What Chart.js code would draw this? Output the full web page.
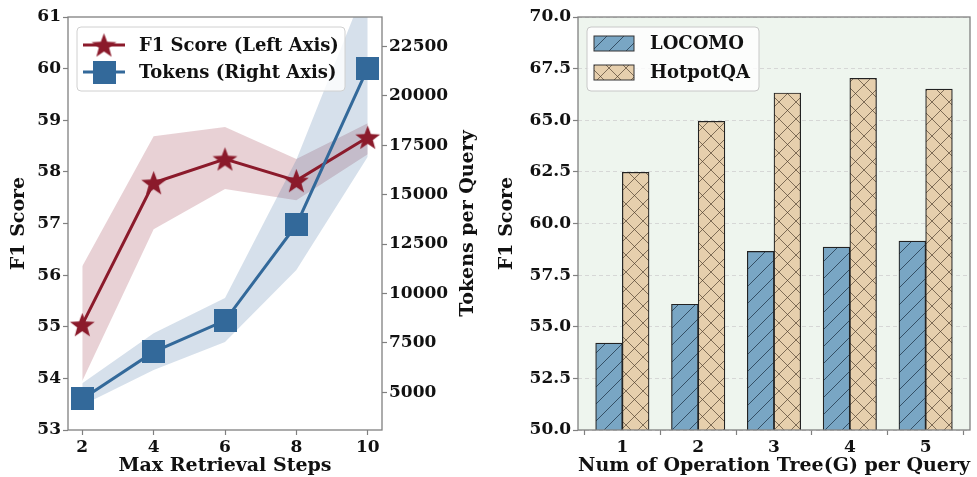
<!DOCTYPE html>
<html><head><meta charset="utf-8">
<script src="https://cdn.jsdelivr.net/npm/chart.js@4.4.1/dist/chart.umd.min.js"></script>
<style>
html,body{margin:0;padding:0;background:#fff;}
#wrap{position:relative;width:977px;height:477px;overflow:hidden;}
#c1{position:absolute;left:0;top:0;}
#c2{position:absolute;left:490px;top:0;}
</style></head><body>
<div id="wrap"><canvas id="c1" width="490" height="477"></canvas><canvas id="c2" width="487" height="477"></canvas></div>
<script>
// ---- Left chart data ----
const steps = [2, 4, 6, 8, 10];
const f1Score = [55.04, 57.79, 58.25, 57.83, 58.67];
const f1Upper = [56.17, 58.69, 58.87, 58.25, 58.94];
const f1Lower = [53.95, 56.89, 57.67, 57.45, 58.34];
const tokens = [4660, 7040, 8630, 13470, 21400];
const tokensUpper = [5460, 7990, 9770, 16770, 25800];
const tokensLower = [4340, 6120, 7540, 11190, 16920];
const f1Ticks = [53, 54, 55, 56, 57, 58, 59, 60, 61];
const tokenTicks = [5000, 7500, 10000, 12500, 15000, 17500, 20000, 22500];

// ---- Right chart data ----
const treeCounts = [1, 2, 3, 4, 5];
const locomo = [54.21, 56.09, 58.65, 58.86, 59.15];
const hotpotqa = [62.48, 64.95, 66.32, 67.03, 66.51];
const barTicks = [50, 52.5, 55, 57.5, 60, 62.5, 65, 67.5, 70];

const FAM = '"DejaVu Serif", "Liberation Serif", serif';
const TXT = '#111';
const AX = '#808080';
const RED = '#8b1a2b';
const BLUE = '#33699a';

function makeStar(size, rO, rI, color) {
  const c = document.createElement('canvas'); c.width = c.height = size;
  const g = c.getContext('2d'); g.beginPath();
  for (let i = 0; i < 10; i++) {
    const r = i % 2 ? rI : rO; const a = -Math.PI / 2 + i * Math.PI / 5;
    g.lineTo(size / 2 + r * Math.cos(a), size / 2 + 1.2 + r * Math.sin(a));
  }
  g.closePath(); g.fillStyle = color; g.fill(); return c;
}
function makeSquare(size, color) {
  const c = document.createElement('canvas'); c.width = c.height = size;
  const g = c.getContext('2d'); g.fillStyle = color; g.fillRect(0, 0, size, size); return c;
}
function hatch(fill, lineColor, both) {
  const s = 17; const c = document.createElement('canvas'); c.width = c.height = s;
  const g = c.getContext('2d'); g.fillStyle = fill; g.fillRect(0, 0, s, s);
  g.strokeStyle = lineColor; g.lineWidth = 1; g.beginPath();
  g.moveTo(-2, s + 2); g.lineTo(s + 2, -2);
  g.moveTo(-2, 2); g.lineTo(2, -2);
  g.moveTo(s - 2, s + 2); g.lineTo(s + 2, s - 2);
  if (both) {
    g.moveTo(-2, -2); g.lineTo(s + 2, s + 2);
    g.moveTo(s - 2, -2); g.lineTo(s + 2, 2);
    g.moveTo(-2, s - 2); g.lineTo(2, s + 2);
  }
  g.stroke();
  return g.createPattern(c, 'repeat');
}

const starImg = makeStar(29, 13, 5.4, RED);
const squareImg = makeSquare(23, BLUE);

const frame = {
  id: 'frame',
  afterDatasetsDraw(chart) {
    const a = chart.chartArea, ctx = chart.ctx;
    ctx.save(); ctx.strokeStyle = AX; ctx.lineWidth = 1.3;
    ctx.strokeRect(a.left, a.top, a.right - a.left, a.bottom - a.top);
    ctx.restore();
  }
};

// right-axis title drawn reading bottom-to-top (as in the reference)
const rightTitle = {
  id: 'rightTitle',
  afterDraw(chart) {
    const sc = chart.options.scales.y1, a = chart.chartArea, ctx = chart.ctx;
    ctx.save();
    ctx.translate(468, (a.top + a.bottom) / 2);
    ctx.rotate(-Math.PI / 2);
    ctx.fillStyle = TXT; ctx.font = 'bold 19px ' + FAM; ctx.textAlign = 'center'; ctx.textBaseline = 'middle';
    ctx.fillText(sc.title.text, 0, 0);
    ctx.restore();
  }
};

function roundBox(ctx, x, y, w, h, r) {
  ctx.beginPath(); ctx.moveTo(x + r, y); ctx.lineTo(x + w - r, y); ctx.quadraticCurveTo(x + w, y, x + w, y + r);
  ctx.lineTo(x + w, y + h - r); ctx.quadraticCurveTo(x + w, y + h, x + w - r, y + h);
  ctx.lineTo(x + r, y + h); ctx.quadraticCurveTo(x, y + h, x, y + h - r);
  ctx.lineTo(x, y + r); ctx.quadraticCurveTo(x, y, x + r, y); ctx.closePath();
}

const legend1 = {
  id: 'legend1',
  afterDraw(chart) {
    const ctx = chart.ctx; const ds = chart.data.datasets;
    ctx.save();
    roundBox(ctx, 77, 27, 268, 64, 4);
    ctx.fillStyle = 'rgba(255,255,255,0.8)'; ctx.fill();
    ctx.strokeStyle = '#d0d0d0'; ctx.lineWidth = 1; ctx.stroke();
    const rows = [{ y: 45, d: ds[0], img: starImg }, { y: 72, d: ds[1], img: squareImg }];
    rows.forEach(r => {
      ctx.strokeStyle = r.d.borderColor; ctx.lineWidth = 3;
      ctx.beginPath(); ctx.moveTo(83, r.y); ctx.lineTo(125, r.y); ctx.stroke();
      ctx.drawImage(r.img, 104 - r.img.width / 2, r.y - r.img.height / 2);
      ctx.fillStyle = TXT; ctx.font = 'bold 18px ' + FAM; ctx.textBaseline = 'middle'; ctx.textAlign = 'left';
      ctx.fillText(r.d.label, 139, r.y + 1);
    });
    ctx.restore();
  }
};

const bg2 = {
  id: 'bg2',
  beforeDraw(chart) {
    const a = chart.chartArea, ctx = chart.ctx;
    ctx.save(); ctx.fillStyle = '#eef5ee'; ctx.fillRect(a.left, a.top, a.right - a.left, a.bottom - a.top); ctx.restore();
  }
};

const legend2 = {
  id: 'legend2',
  afterDraw(chart) {
    const ctx = chart.ctx; const ds = chart.data.datasets;
    ctx.save();
    roundBox(ctx, 97, 27, 172, 64, 4);
    ctx.fillStyle = 'rgba(255,255,255,0.8)'; ctx.fill();
    ctx.strokeStyle = '#c8c8c8'; ctx.lineWidth = 1; ctx.stroke();
    [{ y: 43.5, d: ds[0] }, { y: 72.5, d: ds[1] }].forEach(r => {
      ctx.fillStyle = r.d.backgroundColor; ctx.fillRect(104, r.y - 7.5, 40, 15);
      ctx.strokeStyle = '#333'; ctx.lineWidth = 1; ctx.strokeRect(104, r.y - 7.5, 40, 15);
      ctx.fillStyle = TXT; ctx.font = 'bold 18px ' + FAM; ctx.textBaseline = 'middle'; ctx.textAlign = 'left';
      ctx.fillText(r.d.label, 160, r.y + 1);
    });
    ctx.restore();
  }
};

const tickFont = { family: FAM, size: 17, weight: 'bold' };
const titleFont = { family: FAM, size: 19, weight: 'bold' };
const tickGrid = { display: true, drawOnChartArea: false, tickLength: 5, tickColor: AX, tickWidth: 1.2 };

new Chart(document.getElementById('c1'), {
  type: 'line',
  data: {
    labels: steps,
    datasets: [
      { label: 'F1 Score (Left Axis)', data: f1Score, yAxisID: 'y', borderColor: RED, backgroundColor: RED, borderWidth: 3,
        pointStyle: starImg, pointRadius: 12, order: 1, fill: false, tension: 0 },
      { label: 'Tokens (Right Axis)', data: tokens, yAxisID: 'y1', borderColor: BLUE, backgroundColor: BLUE, borderWidth: 3,
        pointStyle: squareImg, pointRadius: 12, order: 0, fill: false, tension: 0 },
      { label: 'F1 upper', data: f1Upper, yAxisID: 'y', borderWidth: 0, borderColor: 'rgba(0,0,0,0)', pointRadius: 0, fill: false, order: 3 },
      { label: 'F1 lower', data: f1Lower, yAxisID: 'y', borderWidth: 0, borderColor: 'rgba(0,0,0,0)', pointRadius: 0,
        fill: '-1', backgroundColor: 'rgba(139,26,43,0.2)', order: 3 },
      { label: 'Tokens upper', data: tokensUpper, yAxisID: 'y1', borderWidth: 0, borderColor: 'rgba(0,0,0,0)', pointRadius: 0, fill: false, order: 2 },
      { label: 'Tokens lower', data: tokensLower, yAxisID: 'y1', borderWidth: 0, borderColor: 'rgba(0,0,0,0)', pointRadius: 0,
        fill: '-1', backgroundColor: 'rgba(51,102,153,0.2)', order: 2 }
    ]
  },
  options: {
    responsive: false, animation: false, devicePixelRatio: 1,
    layout: { padding: { top: 17, left: 0, right: 0, bottom: 0 } },
    plugins: { legend: { display: false }, tooltip: { enabled: false } },
    scales: {
      x: {
        type: 'linear', min: 1.6, max: 10.4,
        afterBuildTicks: s => { s.ticks = steps.map(v => ({ value: v })); },
        afterFit: s => { s.height = 47; },
        grid: tickGrid, border: { display: false },
        ticks: { color: TXT, font: tickFont, padding: 2, maxRotation: 0, autoSkip: false },
        title: { display: true, text: 'Max Retrieval Steps', color: TXT, font: titleFont, padding: { top: 0, bottom: 0 } }
      },
      y: {
        position: 'left', min: 53, max: 61,
        afterBuildTicks: s => { s.ticks = f1Ticks.map(v => ({ value: v })); },
        afterFit: s => { s.width = 68; },
        grid: tickGrid, border: { display: false },
        ticks: { color: TXT, font: tickFont, padding: 2 },
        title: { display: true, text: 'F1 Score', color: TXT, font: titleFont, padding: { top: 8, bottom: 0 } }
      },
      y1: {
        position: 'right', min: 3090, max: 23990,
        afterBuildTicks: s => { s.ticks = tokenTicks.map(v => ({ value: v })); },
        afterFit: s => { s.width = 108; },
        grid: tickGrid, border: { display: false },
        ticks: { color: TXT, font: tickFont, padding: 2, callback: v => String(v) },
        title: { display: false, text: 'Tokens per Query', color: TXT, font: titleFont }
      }
    }
  },
  plugins: [frame, legend1, rightTitle]
});

new Chart(document.getElementById('c2'), {
  type: 'bar',
  data: {
    labels: treeCounts,
    datasets: [
      { label: 'LOCOMO', data: locomo, backgroundColor: hatch('#79a6c4', 'rgba(30,50,70,0.75)', false),
        borderColor: '#222', borderWidth: 1.2, borderSkipped: false, barThickness: 26.7, grouped: true },
      { label: 'HotpotQA', data: hotpotqa, backgroundColor: hatch('#e6cfad', 'rgba(70,55,40,0.65)', true),
        borderColor: '#222', borderWidth: 1.2, borderSkipped: false, barThickness: 26.7, grouped: true }
    ]
  },
  options: {
    responsive: false, animation: false, devicePixelRatio: 1,
    layout: { padding: { top: 17, left: 0, right: 7, bottom: 0 } },
    plugins: { legend: { display: false }, tooltip: { enabled: false } },
    scales: {
      x: {
        type: 'linear', min: 0.415, max: 5.585, offset: false,
        afterBuildTicks: s => { s.ticks = treeCounts.map(v => ({ value: v })); },
        afterFit: s => { s.height = 47; },
        grid: tickGrid, border: { display: false },
        ticks: { color: TXT, font: tickFont, padding: 2, maxRotation: 0, autoSkip: false },
        title: { display: true, text: 'Num of Operation Tree(G) per Query', color: TXT, font: titleFont, padding: { top: 0, bottom: 0 } }
      },
      y: {
        min: 50, max: 70,
        afterBuildTicks: s => { s.ticks = barTicks.map(v => ({ value: v })); },
        afterFit: s => { s.width = 88; },
        grid: { display: true, drawOnChartArea: true, color: '#cfcfcf', lineWidth: 0.8, tickLength: 5, tickColor: AX, tickWidth: 1.2 },
        border: { display: false, dash: [4, 3] },
        ticks: { color: TXT, font: tickFont, padding: 2, callback: v => Number(v).toFixed(1) },
        title: { display: true, text: 'F1 Score', color: TXT, font: titleFont, padding: { top: 6, bottom: 0 } }
      }
    }
  },
  plugins: [bg2, frame, legend2]
});
</script>
</body></html>
